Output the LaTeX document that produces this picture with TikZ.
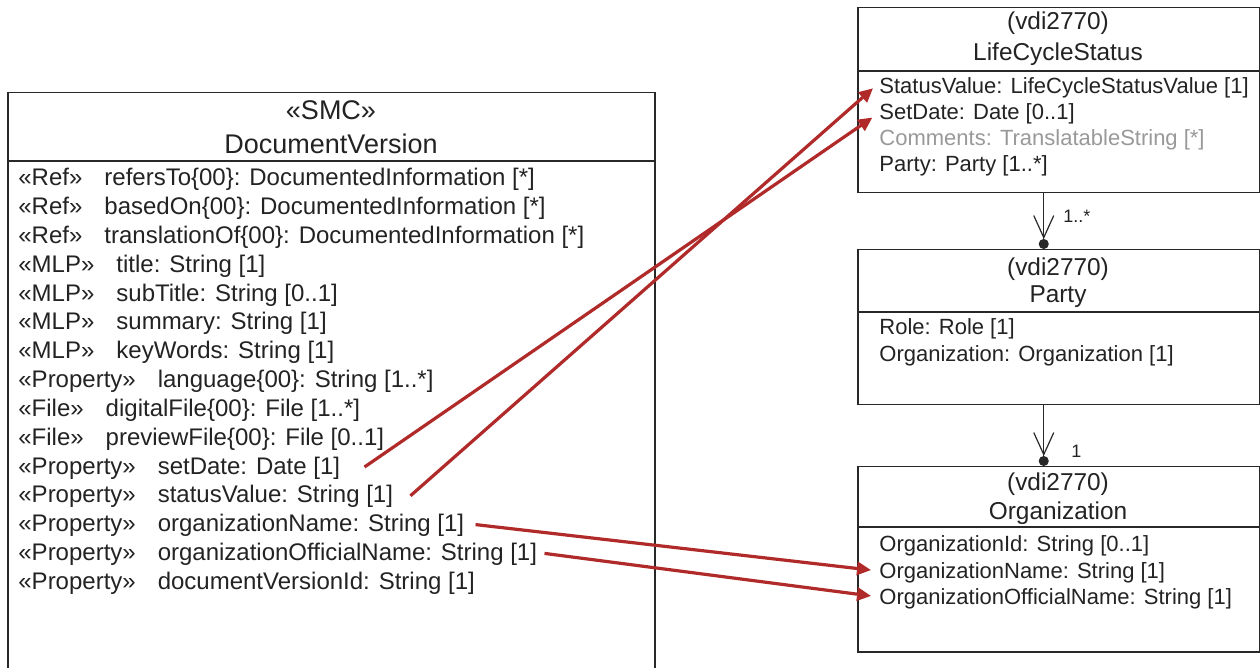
\documentclass[tikz,border=0pt]{standalone}
\usepackage{fontspec}
\setmainfont{Liberation Sans}
\usetikzlibrary{arrows.meta, positioning}
\definecolor{linkred}{RGB}{176,42,42}
\definecolor{boxline}{RGB}{40,40,40}
\definecolor{txtgray}{RGB}{35,35,35}
\tikzset{
  classbox/.style={draw=boxline, line width=0.75pt},
  ctitle/.style={font=\fontsize{12.2}{14}\selectfont, text=txtgray, inner sep=0pt},
  attr/.style={font=\fontsize{11}{13}\selectfont, text=txtgray, anchor=west, inner sep=0pt, text height=8.5pt, text depth=1.5pt},
  link/.style={draw=linkred, line width=1.6pt, -{Triangle[length=7pt, width=6.5pt]}},
  assoc/.style={draw=boxline, line width=0.6pt, -{Straight Barb[length=11pt, width=10pt, line width=0.6pt] Circle[length=5pt]}},
  mult/.style={font=\fontsize{9}{10}\selectfont, text=txtgray, inner sep=0pt}
}

\begin{document}
\begin{tikzpicture}[x=0.5pt, y=-0.5pt]
  \clip (0,0) rectangle (1260,668);
  \fill[white] (0,0) rectangle (1260,668);

  % DocumentVersion
  \node[classbox, anchor=north west, minimum width=323.5pt, minimum height=300pt] (dv) at (7,92) {};
  \draw[classbox] ([yshift=-34.5pt]dv.north west) -- ([yshift=-34.5pt]dv.north east);
  \node[ctitle, font=\fontsize{13.5}{15}\selectfont] (dvst) at (331,110) {«SMC»};
  \node[ctitle, font=\fontsize{13.5}{15}\selectfont] (dvname) at (331,144) {DocumentVersion};
  \foreach \st/\txt [count=\i] in {
      «Ref»/{refersTo\{00\}: DocumentedInformation [*]},
      «Ref»/{basedOn\{00\}: DocumentedInformation [*]},
      «Ref»/{translationOf\{00\}: DocumentedInformation [*]},
      «MLP»/{title: String [1]},
      «MLP»/{subTitle: String [0..1]},
      «MLP»/{summary: String [1]},
      «MLP»/{keyWords: String [1]},
      «Property»/{language\{00\}: String [1..*]},
      «File»/{digitalFile\{00\}: File [1..*]},
      «File»/{previewFile\{00\}: File [0..1]},
      «Property»/{setDate: Date [1]},
      «Property»/{statusValue: String [1]},
      «Property»/{organizationName: String [1]},
      «Property»/{organizationOfficialName: String [1]},
      «Property»/{documentVersionId: String [1]}}
    \node[attr, font=\fontsize{12}{14}\selectfont] (dv\i) at (18,{179+(\i-1)*28.8}) {\st\hspace{11pt}\txt};

  % LifeCycleStatus
  \node[classbox, anchor=north west, minimum width=201pt, minimum height=92.5pt] (lcs) at (857,7) {};
  \draw[classbox] ([yshift=-32pt]lcs.north west) -- ([yshift=-32pt]lcs.north east);
  \node[ctitle] (lcsst) at (1058,23) {(vdi2770)};
  \node[ctitle] (lcsname) at (1058,54) {LifeCycleStatus};
  \node[attr] (ls1) at (879,87) {StatusValue: LifeCycleStatusValue [1]};
  \node[attr] (ls2) at (879,113) {SetDate: Date [0..1]};
  \node[attr, text=black!40] (ls3) at (879,139) {Comments: TranslatableString [*]};
  \node[attr] (ls4) at (879,165) {Party: Party [1..*]};

  % Party
  \node[classbox, anchor=north west, minimum width=201pt, minimum height=77.5pt] (party) at (857,249) {};
  \draw[classbox] ([yshift=-31.5pt]party.north west) -- ([yshift=-31.5pt]party.north east);
  \node[ctitle] (ptst) at (1058,269) {(vdi2770)};
  \node[ctitle] (ptname) at (1058,297) {Party};
  \node[attr] (pt1) at (879,328) {Role: Role [1]};
  \node[attr] (pt2) at (879,355) {Organization: Organization [1]};

  % Organization
  \node[classbox, anchor=north west, minimum width=201pt, minimum height=92.5pt] (org) at (857,466) {};
  \draw[classbox] ([yshift=-30.5pt]org.north west) -- ([yshift=-30.5pt]org.north east);
  \node[ctitle] (ogst) at (1058,484) {(vdi2770)};
  \node[ctitle] (ogname) at (1058,513) {Organization};
  \node[attr] (og1) at (879,545) {OrganizationId: String [0..1]};
  \node[attr] (og2) at (879,571) {OrganizationName: String [1]};
  \node[attr] (og3) at (879,597) {OrganizationOfficialName: String [1]};

  % associations
  \draw[assoc] ([xshift=-7.5pt]lcs.south) -- node[mult, right=9.5pt, pos=0.42] {1..*} ([xshift=-7.5pt]party.north);
  \draw[assoc] ([xshift=-7.5pt]party.south) -- node[mult, right=13.5pt, pos=0.76] {1} ([xshift=-7.5pt]org.north);

  % mappings
  \draw[link, shorten >=4pt] ([xshift=12pt]dv11.east) -- (ls2.west);
  \draw[link, shorten >=4pt] ([xshift=8.5pt]dv12.east) -- ([yshift=2pt]ls1.west);
  \draw[link, shorten >=4pt] ([xshift=5.5pt]dv13.east) -- (og2.west);
  \draw[link, shorten >=4pt] ([xshift=3.5pt]dv14.east) -- (og3.west);
\end{tikzpicture}
\end{document}
